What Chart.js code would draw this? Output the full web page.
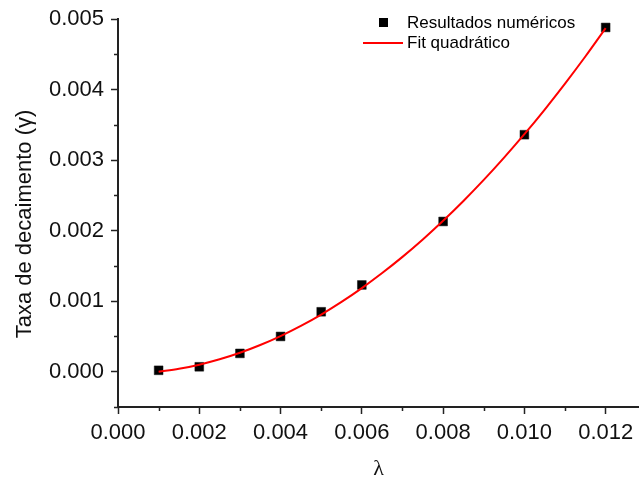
<!DOCTYPE html>
<html>
<head>
<meta charset="utf-8">
<script src="https://cdn.jsdelivr.net/npm/chart.js@4.4.1/dist/chart.umd.min.js"></script>
<style>
  html, body { margin: 0; padding: 0; background: #fff; }
  #chart { display: block; }
</style>
</head>
<body>
<canvas id="chart" width="639" height="481"></canvas>
<script>
// numerical results
const lambdaValues = [0.001, 0.002, 0.003, 0.004, 0.005, 0.006, 0.008, 0.010, 0.012];
const gammaValues = [0.00002, 0.00007, 0.00026, 0.00050, 0.00085, 0.00123, 0.00213, 0.00336, 0.00488];

// quadratic fit curve
const fitLambda = [0.001, 0.0015, 0.002, 0.0025, 0.003, 0.0035, 0.004, 0.0045, 0.005, 0.0055, 0.006, 0.0065,
    0.007, 0.0075, 0.008, 0.0085, 0.009, 0.0095, 0.010, 0.0105, 0.011, 0.0115, 0.012];
const fitGamma = [0.00000, 0.000041, 0.000100, 0.000176, 0.000269, 0.000379, 0.000506, 0.000650, 0.000811, 0.000990,
    0.001186, 0.001399, 0.001628, 0.001875, 0.002140, 0.002421, 0.002719, 0.003035, 0.003367, 0.003717,
    0.004084, 0.004468, 0.004870];

const xTicks = [0, 0.002, 0.004, 0.006, 0.008, 0.010, 0.012];
const xMinorTicks = [0.001, 0.003, 0.005, 0.007, 0.009, 0.011];
const yTicks = [0, 0.001, 0.002, 0.003, 0.004, 0.005];
const yMinorTicks = [-0.0005, 0.0005, 0.0015, 0.0025, 0.0035, 0.0045];

const seriesLabels = ['Resultados numéricos', 'Fit quadrático'];
const yTitle = 'Taxa de decaimento (γ)';
const xTitle = 'λ';

const axisColor = '#222';
const sansFont = '"Liberation Sans", Arial, sans-serif';

const minorTicksPlugin = {
    id: 'minorTicks',
    afterDraw(chart) {
        const ctx = chart.ctx;
        const xs = chart.scales.x;
        const ys = chart.scales.y;
        const area = chart.chartArea;
        ctx.save();
        ctx.strokeStyle = axisColor;
        ctx.lineWidth = 1.5;
        ctx.beginPath();
        xMinorTicks.forEach(v => {
            const px = Math.round(xs.getPixelForValue(v)) + 0.5;
            ctx.moveTo(px, area.bottom);
            ctx.lineTo(px, area.bottom + 4);
        });
        yMinorTicks.forEach(v => {
            const py = Math.round(ys.getPixelForValue(v)) + 0.5;
            ctx.moveTo(area.left - 4, py);
            ctx.lineTo(area.left, py);
        });
        ctx.stroke();
        ctx.restore();
    }
};

const yTitlePlugin = {
    id: 'yTitle',
    afterDraw(chart) {
        const ctx = chart.ctx;
        ctx.save();
        ctx.translate(25, 224);
        ctx.rotate(-Math.PI / 2);
        ctx.font = '22px ' + sansFont;
        ctx.fillStyle = '#111';
        ctx.textAlign = 'center';
        ctx.textBaseline = 'middle';
        ctx.fillText(yTitle, 0, 0);
        ctx.restore();
    }
};

const legendPlugin = {
    id: 'insideLegend',
    afterDraw(chart) {
        const ctx = chart.ctx;
        const sets = chart.data.datasets;
        ctx.save();
        ctx.font = '17px ' + sansFont;
        ctx.textBaseline = 'middle';

        // square marker row
        const pts = sets[1];
        ctx.fillStyle = pts.backgroundColor;
        ctx.fillRect(379, 18, 9, 9);
        ctx.fillStyle = '#000';
        ctx.fillText(pts.label, 407, 23);

        // line row
        const fit = sets[0];
        ctx.strokeStyle = fit.borderColor;
        ctx.lineWidth = fit.borderWidth;
        ctx.beginPath();
        ctx.moveTo(363, 43);
        ctx.lineTo(403, 43);
        ctx.stroke();
        ctx.fillText(fit.label, 407, 43);
        ctx.restore();
    }
};

new Chart(document.getElementById('chart'), {
    type: 'scatter',
    data: {
        datasets: [
            {
                label: seriesLabels[1],
                data: fitLambda.map((x, i) => ({ x: x, y: fitGamma[i] })),
                showLine: true,
                borderColor: '#ff0000',
                borderWidth: 2,
                pointRadius: 0,
                cubicInterpolationMode: 'monotone',
                order: 1
            },
            {
                label: seriesLabels[0],
                data: lambdaValues.map((x, i) => ({ x: x, y: gammaValues[i] })),
                pointStyle: 'rect',
                pointRadius: 6.2,
                backgroundColor: '#000',
                borderColor: '#111',
                borderWidth: 0.5,
                order: 2
            }
        ]
    },
    options: {
        responsive: false,
        animation: false,
        layout: { autoPadding: false, padding: { top: 19, right: 0, left: 0, bottom: 0 } },
        plugins: {
            legend: { display: false },
            tooltip: { enabled: false }
        },
        scales: {
            x: {
                type: 'linear',
                min: 0,
                max: 0.01282,
                afterBuildTicks: scale => { scale.ticks = xTicks.map(v => ({ value: v })); },
                afterFit: scale => {
                    scale.height = 74;
                    scale.paddingLeft = 0;
                    scale.paddingRight = 0;
                },
                border: { display: true, color: axisColor, width: 2 },
                grid: { drawOnChartArea: false, drawTicks: true, tickLength: 7, tickColor: axisColor, tickWidth: 1.5 },
                ticks: {
                    autoSkip: false,
                    maxRotation: 0,
                    padding: 6,
                    color: '#111',
                    font: { family: sansFont, size: 22 },
                    callback: v => v.toFixed(3)
                },
                title: {
                    display: true,
                    text: xTitle,
                    color: '#111',
                    padding: { top: 0, bottom: 0 },
                    font: { family: '"Liberation Serif", "DejaVu Serif", serif', size: 22, lineHeight: 1.05 }
                }
            },
            y: {
                type: 'linear',
                min: -0.0005,
                max: 0.005,
                afterBuildTicks: scale => { scale.ticks = yTicks.map(v => ({ value: v })); },
                afterFit: scale => {
                    scale.width = 118;
                    scale.paddingTop = 0;
                    scale.paddingBottom = 0;
                },
                border: { display: true, color: axisColor, width: 2 },
                grid: { drawOnChartArea: false, drawTicks: true, tickLength: 7, tickColor: axisColor, tickWidth: 1.5 },
                ticks: {
                    autoSkip: false,
                    padding: 7,
                    color: '#111',
                    font: { family: sansFont, size: 22 },
                    callback: v => v.toFixed(3)
                },
                title: { display: false }
            }
        }
    },
    plugins: [minorTicksPlugin, yTitlePlugin, legendPlugin]
});
</script>
</body>
</html>
